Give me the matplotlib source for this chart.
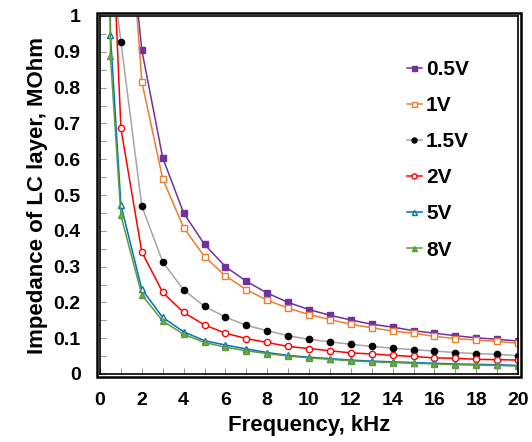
import matplotlib
matplotlib.use("Agg")
import matplotlib.pyplot as plt
from matplotlib.patches import Rectangle

plt.rcParams["font.family"] = ["Liberation Sans", "DejaVu Sans"]
plt.rcParams["font.weight"] = "bold"

# frequency, kHz
freq = [0.1, 0.5, 1, 2, 3, 4, 5, 6, 7, 8, 9, 10, 11, 12, 13, 14, 15, 16, 17, 18, 19, 20]

# impedance, MOhm (points above 1 are off the chart)
z_05 = [18.0, 3.6, 1.48, 0.905, 0.604, 0.450, 0.362, 0.300, 0.259, 0.226, 0.200, 0.180,
        0.164, 0.151, 0.139, 0.131, 0.121, 0.114, 0.107, 0.101, 0.097, 0.092]
z_1 = [16.0, 3.3, 1.62, 0.817, 0.545, 0.409, 0.328, 0.274, 0.236, 0.206, 0.184, 0.166,
       0.152, 0.139, 0.129, 0.120, 0.114, 0.105, 0.099, 0.095, 0.091, 0.086]
z_15 = [9.0, 1.17, 0.928, 0.469, 0.313, 0.235, 0.189, 0.159, 0.136, 0.121, 0.107, 0.097,
        0.090, 0.083, 0.077, 0.072, 0.068, 0.064, 0.060, 0.057, 0.055, 0.051]
z_2 = [7.0, 1.37, 0.686, 0.341, 0.228, 0.172, 0.137, 0.114, 0.099, 0.088, 0.077, 0.071,
       0.065, 0.059, 0.056, 0.052, 0.049, 0.045, 0.044, 0.041, 0.040, 0.039]
z_5 = [4.7, 0.947, 0.472, 0.237, 0.158, 0.118, 0.093, 0.081, 0.070, 0.060, 0.052, 0.047,
       0.043, 0.039, 0.036, 0.034, 0.032, 0.030, 0.028, 0.027, 0.026, 0.024]
z_8 = [4.4, 0.887, 0.443, 0.221, 0.148, 0.111, 0.088, 0.075, 0.065, 0.057, 0.050, 0.045,
       0.041, 0.037, 0.034, 0.032, 0.030, 0.028, 0.026, 0.025, 0.024, 0.022]

series = [
    ("0.5V", z_05, "#7030A0", "s", "#7030A0"),
    ("1V", z_1, "#ED7D31", "s", "white"),
    ("1.5V", z_15, "#A5A5A5", "o", "black"),
    ("2V", z_2, "#FF0000", "o", "white"),
    ("5V", z_5, "#0070C0", "^", "white"),
    ("8V", z_8, "#5B9B3A", "^", "#70AD47"),
]

fig = plt.figure(figsize=(5.32, 4.42), dpi=100)
ax = fig.add_axes([100 / 532, 68 / 442, 418 / 532, 358 / 442])

for label, z, col, mk, face in series:
    mec = "black" if label == "1.5V" else col
    ax.plot(freq, z, color=col, lw=1.1, marker=mk, markersize=4.5,
            markerfacecolor=face, markeredgecolor=mec, markeredgewidth=1.0, label=label)

ax.set_xlim(0, 20)
ax.set_ylim(0, 1)
ax.set_xticks(range(0, 21, 2))
ax.set_xticks(range(0, 21), minor=True)
ax.set_yticks([0, 0.1, 0.2, 0.3, 0.4, 0.5, 0.6, 0.7, 0.8, 0.9, 1])
ax.set_yticklabels(["0", "0.1", "0.2", "0.3", "0.4", "0.5", "0.6", "0.7", "0.8", "0.9", "1"])
ax.set_yticks([i * 0.05 for i in range(21)], minor=True)
ax.tick_params(which="both", direction="in", color="#999999", width=0.8)
ax.tick_params(which="major", length=4, labelsize=14)
ax.tick_params(axis="x", which="major", pad=13)
ax.tick_params(axis="y", which="major", pad=14)
ax.tick_params(which="minor", length=4)
for lab in ax.get_xticklabels() + ax.get_yticklabels():
    lab.set_fontweight("bold")

for s in ax.spines.values():
    s.set_linewidth(1.2)
    s.set_color("black")
ax.add_patch(Rectangle((-0.007, -0.008), 1.014, 1.016, transform=ax.transAxes,
                       fill=False, lw=1.8, ec="black", clip_on=False))

ax.set_xlabel("Frequency, kHz", fontsize=16, fontweight="bold", labelpad=4)
ax.set_ylabel("Impedance of LC layer, MOhm", fontsize=16, fontweight="bold", labelpad=4)

leg = ax.legend(loc="upper left", bbox_to_anchor=(0.715, 0.9), borderaxespad=0,
                frameon=False, fontsize=15, handlelength=0.7, handletextpad=0.2,
                labelspacing=0.82, markerscale=0.8)
for t in leg.get_texts():
    t.set_fontweight("bold")

fig.savefig("out.png", dpi=100)
